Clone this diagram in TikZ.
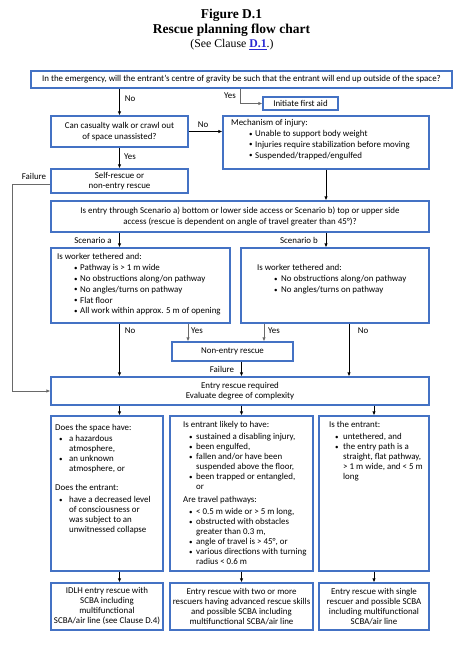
\documentclass[tikz,border=0pt]{standalone}
\usepackage{fontspec}
\setmainfont{Carlito}
\newfontfamily\titlefont{Liberation Serif}
\usetikzlibrary{arrows.meta}
\definecolor{boxblue}{RGB}{68,114,196}
\definecolor{lnk}{RGB}{40,40,210}
\definecolor{conngray}{RGB}{105,105,105}
\newcommand{\fsz}{\fontsize{8.9}{10.3}\selectfont}
\newcommand{\fszc}{\fontsize{8.9}{10}\selectfont}
\newcommand{\bi}[2]{\hspace*{#1pt}\makebox[\dimexpr#2pt-#1pt\relax][l]{\raisebox{0.4pt}{\fontsize{7}{7}\selectfont\textbullet}}}
\newcommand{\ci}[1]{\hspace*{#1pt}}
\tikzset{
  box/.style={draw=boxblue, line width=1.2pt, fill=white, inner sep=1pt, align=center, font=\fsz},
  txt/.style={anchor=north west, inner sep=0pt, align=left, font=\fsz},
  txtc/.style={anchor=north west, inner sep=0pt, align=left, font=\fszc},
  lbl/.style={inner sep=0pt, font=\fsz},
  arr/.style={-{Latex[length=4pt,width=3.4pt]}, line width=0.8pt},
  garr/.style={arr, draw=conngray},
}
\begin{document}
\begin{tikzpicture}[x=1pt,y=-1pt]
\useasboundingbox (0,0) rectangle (461,645);
% title
\node[inner sep=0pt, font=\titlefont\bfseries\fontsize{13.5}{15}\selectfont] (t1) at (231.5,15) {Figure D.1};
\node[inner sep=0pt, font=\titlefont\bfseries\fontsize{13.5}{15}\selectfont] (t2) at (231.5,30) {Rescue planning flow chart};
\node[inner sep=0pt, font=\titlefont\fontsize{11.8}{13}\selectfont] (t3) at (232,45) {(See Clause \textcolor{lnk}{\underline{\textbf{D.1}}}.)};
% boxes
\node[box, minimum width=421pt, minimum height=17pt] (top) at (241.5,79.5) {In the emergency, will the entrant’s centre of gravity be such that the entrant will end up outside of the space?};
\node[box, minimum width=75pt, minimum height=13pt] (aid) at (300.5,103.5) {Initiate first aid};
\node[box, minimum width=137pt, minimum height=31pt] (can) at (119.5,131.5) {Can casualty walk or crawl out\\of space unassisted?};
\node[box, minimum width=206pt, minimum height=53pt] (mech) at (326,142.5) {};
\node[txt] (mecht) at (231,118.5) {\strut Mechanism of injury:\\[0.4pt]
\bi{18}{24}Unable to support body weight\\[0.4pt]
\bi{18}{24}Injuries require stabilization before moving\\[0.4pt]
\bi{18}{24}Suspended/trapped/engulfed};
\node[box, minimum width=137pt, minimum height=24pt] (self) at (119.5,181) {Self-rescue or\\non-entry rescue};
\node[box, minimum width=378pt, minimum height=31pt] (scen) at (240,216.5) {Is entry through Scenario a) bottom or lower side access or Scenario b) top or upper side\\access (rescue is dependent on angle of travel greater than 45°)?};
\node[box, minimum width=179pt, minimum height=75pt] (boxA) at (140.5,285.5) {};
\node[txt] (boxAt) at (57,252.5) {\strut Is worker tethered and:\\[0.5pt]
\bi{17}{23}Pathway is > 1 m wide\\[0.5pt]
\bi{17}{23}No obstructions along/on pathway\\[0.5pt]
\bi{17}{23}No angles/turns on pathway\\[0.5pt]
\bi{17}{23}Flat floor\\[0.5pt]
\bi{17}{23}All work within approx. 5 m of opening};
\node[box, minimum width=188pt, minimum height=75pt] (boxB) at (335,285.5) {};
\node[txt] (boxBt) at (257,263.5) {\strut Is worker tethered and:\\[0.5pt]
\bi{17}{24}No obstructions along/on pathway\\[0.5pt]
\bi{17}{24}No angles/turns on pathway};
\node[box, minimum width=121pt, minimum height=19pt] (non) at (232.5,351.5) {Non-entry rescue};
\node[box, minimum width=378pt, minimum height=28pt] (entry) at (240,391) {Entry rescue required\\Evaluate degree of complexity};
\node[box, minimum width=112pt, minimum height=155pt] (c1) at (107,493.5) {};
\node[box, minimum width=143pt, minimum height=155pt] (c2) at (241.5,493.5) {};
\node[box, minimum width=110pt, minimum height=155pt] (c3) at (374,493.5) {};
\node[txtc] (c1t) at (55,423.5) {\strut Does the space have:\\[1pt]
\bi{4}{14}a hazardous\\
\ci{14}atmosphere,\\
\bi{4}{14}an unknown\\
\ci{14}atmosphere, or\\[9pt]
Does the entrant:\\[2pt]
\bi{4}{14}have a decreased level\\
\ci{14}of consciousness or\\
\ci{14}was subject to an\\
\ci{14}unwitnessed collapse};
\node[txtc] (c2t) at (183,420.5) {\strut Is entrant likely to have:\\[2pt]
\bi{6}{13}sustained a disabling injury,\\
\bi{6}{13}been engulfed,\\
\bi{6}{13}fallen and/or have been\\
\ci{13}suspended above the floor,\\
\bi{6}{13}been trapped or entangled,\\
\ci{13}or\\[3pt]
Are travel pathways:\\[2pt]
\bi{6}{13}< 0.5 m wide or > 5 m long,\\
\bi{6}{13}obstructed with obstacles\\
\ci{13}greater than 0.3 m,\\
\bi{6}{13}angle of travel is > 45°, or\\
\bi{6}{13}various directions with turning\\
\ci{13}radius < 0.6 m};
\node[txtc] (c3t) at (329,420.5) {\strut Is the entrant:\\[2pt]
\bi{6}{14}untethered, and\\
\bi{6}{14}the entry path is a\\
\ci{14}straight, flat pathway,\\
\ci{14}> 1 m wide, and < 5 m\\
\ci{14}long};
\node[box, font=\fszc, minimum width=112pt, minimum height=47pt] (d1) at (107,606.5) {IDLH entry rescue with\\SCBA including\\multifunctional\\SCBA/air line (see Clause D.4)};
\node[box, font=\fszc, minimum width=143pt, minimum height=47pt] (d2) at (241.5,606.5) {Entry rescue with two or more\\rescuers having advanced rescue skills\\and possible SCBA including\\multifunctional SCBA/air line};
\node[box, font=\fszc, minimum width=110pt, minimum height=47pt] (d3) at (374,606.5) {Entry rescue with single\\rescuer and possible SCBA\\including multifunctional\\SCBA/air line};
% column coordinates
\coordinate (xL) at (119.5,0);
\coordinate (xY) at (240,0);
\coordinate (xF) at (12.7,0);
\coordinate (xAY) at (188,0);
\coordinate (xBY) at (264,0);
\coordinate (xBN) at (349,0);
\coordinate (xC) at (241.5,0);
% connectors
\draw[arr] (top.south -| xL) -- (can.north);
\draw[garr] (top.south -| xY) |- (aid.west);
\draw[arr] (can.east) -- (mech.west |- can.east);
\draw[arr] (can.south) -- (self.north);
\draw[garr] ([yshift=-3pt]self.west) -| (xF |- entry.west) -- (entry.west);
\draw[arr] (mech.south) -- (scen.north -| mech.south);
\draw[arr] (scen.south -| xL) -- (boxA.north -| xL);
\draw[arr] (scen.south -| mech.south) -- (boxB.north -| mech.south);
\draw[arr] (boxA.south -| xL) -- (entry.north -| xL);
\draw[garr] (boxA.south -| xAY) -- (non.north -| xAY);
\draw[garr] (boxB.south -| xBY) -- (non.north -| xBY);
\draw[arr] (boxB.south -| xBN) -- (entry.north -| xBN);
\draw[arr] (non.south -| xC) -- (entry.north -| xC);
\draw[arr] (entry.south -| xL) -- (c1.north -| xL);
\draw[arr] (entry.south -| c2.north) -- (c2.north);
\draw[arr] (entry.south -| c3.north) -- (c3.north);
\draw[arr] (c1.south -| xL) -- (d1.north -| xL);
\draw[arr] (c2.south) -- (d2.north);
\draw[arr] (c3.south) -- (d3.north);
% labels
\node[lbl] (l1) at (130,99) {No};
\node[lbl] (l2) at (230,96) {Yes};
\node[lbl] (l3) at (203,125) {No};
\node[lbl] (l4) at (130,157) {Yes};
\node[lbl] (l5) at (34,176) {Failure};
\node[lbl] (l6) at (93,240) {Scenario a};
\node[lbl] (l7) at (299,240) {Scenario b};
\node[lbl] (l8) at (130,331) {No};
\node[lbl] (l9) at (197,331) {Yes};
\node[lbl] (l10) at (274,331) {Yes};
\node[lbl] (l11) at (363,331) {No};
\node[lbl] (l12) at (222,369) {Failure};
\end{tikzpicture}
\end{document}
